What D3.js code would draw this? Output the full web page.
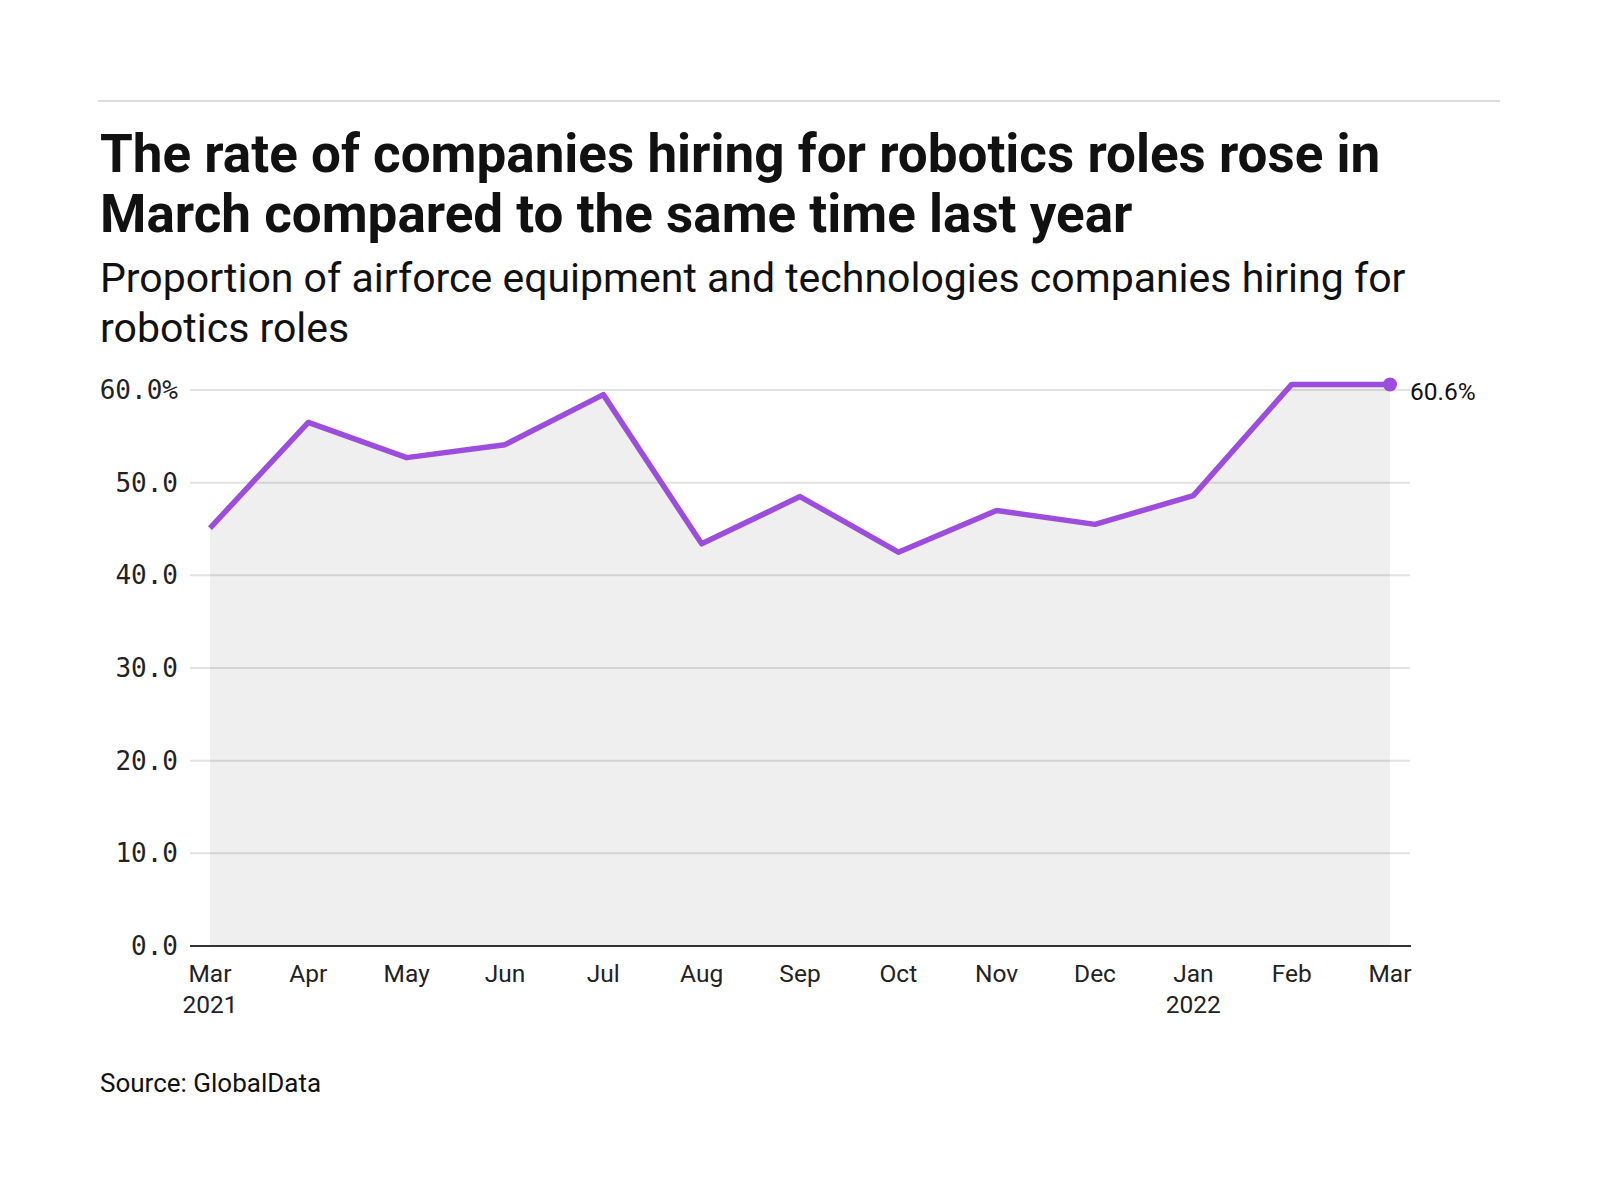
<!DOCTYPE html>
<html lang="en">
<head>
    <meta charset="UTF-8">
    <script src="https://d3js.org/d3.v7.min.js"></script>
    <style>
        body { margin: 0; background: #fff; }
    </style>
</head>
<body>
    <div id="chart"></div>
    <script>
        // data
        var months = ["Mar", "Apr", "May", "Jun", "Jul", "Aug", "Sep", "Oct", "Nov", "Dec", "Jan", "Feb", "Mar"];
        var years = ["2021", "", "", "", "", "", "", "", "", "", "2022", "", ""];
        var values = [45.1, 56.5, 52.7, 54.1, 59.5, 43.4, 48.5, 42.5, 47.0, 45.5, 48.6, 60.6, 60.6];
        var yTicks = [0, 10, 20, 30, 40, 50, 60];

        var width = 1600,
            height = 1200;

        var sans = "Roboto, 'Noto Sans', sans-serif";
        var mono = "'DejaVu Sans Mono', 'Liberation Mono', monospace";

        var svg = d3.select("#chart")
            .append("svg")
            .attr("width", width)
            .attr("height", height);

        // top rule
        svg.append("line")
            .attr("x1", 98).attr("x2", 1500)
            .attr("y1", 101).attr("y2", 101)
            .attr("stroke", "#dcdcdc")
            .attr("stroke-width", 2);

        // title + subtitle
        var title = ["The rate of companies hiring for robotics roles rose in",
                     "March compared to the same time last year"];
        svg.selectAll(".title")
            .data(title)
            .enter()
            .append("text")
            .attr("class", "title")
            .attr("x", 100)
            .attr("y", function (d, i) { return 172 + i * 60; })
            .style("font-family", sans)
            .style("font-weight", "bold")
            .style("font-size", "53px")
            .style("fill", "#111")
            .text(function (d) { return d; });

        var subtitle = ["Proportion of airforce equipment and technologies companies hiring for",
                        "robotics roles"];
        svg.selectAll(".subtitle")
            .data(subtitle)
            .enter()
            .append("text")
            .attr("class", "subtitle")
            .attr("x", 100)
            .attr("y", function (d, i) { return 292 + i * 50; })
            .style("font-family", sans)
            .style("font-size", "41px")
            .style("fill", "#111")
            .text(function (d) { return d; });

        // scales
        var x = d3.scalePoint()
            .domain(d3.range(months.length))
            .range([210, 1390]);

        var y = d3.scaleLinear()
            .domain([0, 60])
            .range([946, 390]);

        // gridlines
        svg.selectAll(".grid")
            .data(yTicks.slice(1))
            .enter()
            .append("line")
            .attr("class", "grid")
            .attr("x1", 190).attr("x2", 1410)
            .attr("y1", function (d) { return y(d); })
            .attr("y2", function (d) { return y(d); })
            .attr("stroke", "#e2e2e2")
            .attr("stroke-width", 2);

        // area under line
        var area = d3.area()
            .x(function (d, i) { return x(i); })
            .y0(y(0))
            .y1(function (d) { return y(d); });

        svg.append("path")
            .datum(values)
            .attr("d", area)
            .attr("fill", "#000")
            .attr("fill-opacity", 0.063);

        // baseline axis
        svg.append("line")
            .attr("x1", 190).attr("x2", 1411)
            .attr("y1", y(0)).attr("y2", y(0))
            .attr("stroke", "#333")
            .attr("stroke-width", 2);

        // y tick labels
        svg.selectAll(".ylab")
            .data(yTicks)
            .enter()
            .append("text")
            .attr("class", "ylab")
            .attr("x", 178)
            .attr("y", function (d) { return y(d); })
            .attr("dy", "0.35em")
            .attr("text-anchor", "end")
            .style("font-family", mono)
            .style("font-size", "26px")
            .style("fill", "#222")
            .text(function (d) { return d.toFixed(1) + (d === 60 ? "%" : ""); });

        // x labels
        var xlab = svg.selectAll(".xlab")
            .data(months)
            .enter()
            .append("text")
            .attr("class", "xlab")
            .attr("x", function (d, i) { return x(i); })
            .attr("y", 982)
            .attr("text-anchor", "middle")
            .style("font-family", sans)
            .style("font-size", "24.5px")
            .style("fill", "#222");

        xlab.append("tspan")
            .text(function (d) { return d; });
        xlab.append("tspan")
            .attr("x", function (d, i) { return x(i); })
            .attr("dy", 31)
            .text(function (d, i) { return years[i]; });

        // the line
        var line = d3.line()
            .x(function (d, i) { return x(i); })
            .y(function (d) { return y(d); });

        svg.append("path")
            .datum(values)
            .attr("d", line)
            .attr("fill", "none")
            .attr("stroke", "#9d4ddd")
            .attr("stroke-width", 5.5)
            .attr("stroke-linejoin", "round");

        var last = values.length - 1;
        svg.append("circle")
            .attr("cx", x(last))
            .attr("cy", y(values[last]))
            .attr("r", 7)
            .attr("fill", "#9d4ddd");

        svg.append("text")
            .attr("x", x(last) + 20)
            .attr("y", y(values[last]) + 16)
            .style("font-family", sans)
            .style("font-size", "24.5px")
            .style("fill", "#111")
            .text(values[last].toFixed(1) + "%");

        // source
        svg.append("text")
            .attr("x", 100)
            .attr("y", 1092)
            .style("font-family", sans)
            .style("font-size", "26px")
            .style("fill", "#111")
            .text("Source: GlobalData");
    </script>
</body>
</html>
